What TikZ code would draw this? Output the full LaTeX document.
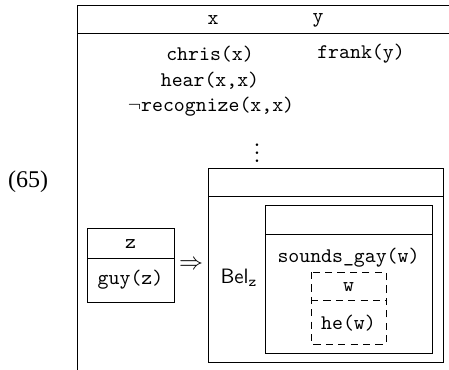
\documentclass[tikz,border=0pt]{standalone}
\usepackage{fontspec}
\newfontfamily\exfont{Liberation Serif}
\begin{document}
\begin{tikzpicture}[x=0.5pt,y=-0.5pt,
  rule/.style={line width=0.5pt},
  dbox/.style={line width=0.5pt, dash pattern=on 3.6pt off 2.6pt},
  txt/.style={inner sep=0pt, font=\fontsize{10.4}{12}\selectfont\ttfamily}]
\useasboundingbox (0,0) rectangle (449,369);
\clip (0,0) rectangle (449,369);
% outer DRS (cut at right and bottom)
\draw[rule] (77,375) -- (77,6) -- (455,6);
\draw[rule] (77,34) -- (455,34);
\node[inner sep=0pt, font=\fontsize{12}{14}\selectfont\exfont] (num) at (28,182) {(65)};
\node[txt] (rx) at (213,20) {x};
\node[txt] (ry) at (318,20) {y};
\node[txt] (c1) at (210,54) {chris(x)};
\node[txt] (c2) at (361,54) {frank(y)};
\node[txt] (c3) at (210,81) {hear(x,x)};
\node[txt] (c4) at (211,107) {$\neg$recognize(x,x)};
\node[txt] (dots) at (257,147) {$\vdots$};
% antecedent box
\draw[rule] (87,228) rectangle (174,302);
\draw[rule] (87,258) -- (174,258);
\node[txt] (z) at (130.5,244) {z};
\node[txt] (guy) at (130.5,280) {guy(z)};
\node[inner sep=0pt, font=\fontsize{12}{14}\selectfont] (imp) at (191,265) {$\Rightarrow$};
% consequent box
\draw[rule] (208,168) rectangle (443,362);
\draw[rule] (208,196) -- (443,196);
\node[txt] (bel) at (239,278) {\textsf{Bel}$_{\mathtt{z}}$};
\draw[rule] (265,205) rectangle (432,353);
\draw[rule] (265,234) -- (432,234);
\node[txt] (sg) at (348.5,258) {sounds\_gay(w)};
\draw[dbox] (311,272) rectangle (386,344);
\draw[dbox] (311,300) -- (386,300);
\node[txt] (w) at (348.5,287) {w};
\node[txt] (he) at (348.5,323) {he(w)};
\end{tikzpicture}
\end{document}
